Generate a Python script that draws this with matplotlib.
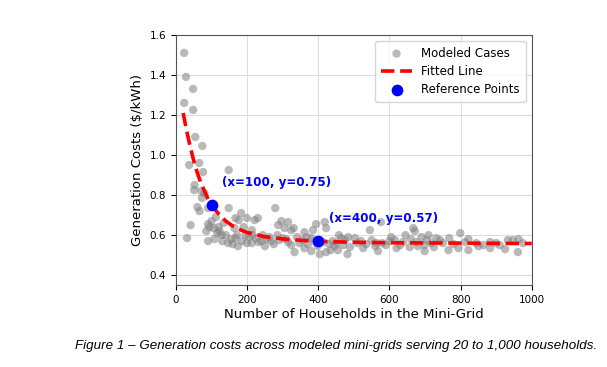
import matplotlib.pyplot as plt
import numpy as np

# modeled cases (households, $/kWh)
households = [23, 28, 48, 23, 48, 54, 74, 37, 65, 76, 148, 52, 51, 71, 80, 73,
              90, 148, 183, 112, 167, 176, 199, 221, 41, 90, 94, 106, 120, 134, 122, 164,
              190, 213, 171, 31, 90, 108, 167, 195, 146, 159, 174, 199, 213, 232,
              279, 296, 287, 315, 305, 324, 331, 361, 385, 394, 418, 422, 230, 244, 268, 300,
              315, 324, 333, 347, 371, 361, 380, 404, 422, 435, 455, 464, 413, 380,
              545, 576, 667, 671, 484, 475, 489, 482, 526, 564, 568, 615, 620, 638, 657, 676,
              690, 699, 699, 718, 732, 503,
              799, 768, 742, 766, 794, 822, 822, 813, 844, 864, 883, 883, 925, 933, 947, 963, 961,
              255, 262, 285, 290, 310, 340, 355, 368, 390, 398, 430, 440, 445, 450, 458, 470,
              510, 520, 535, 550, 560, 580, 590, 600, 605, 630, 645, 660, 680, 705, 710, 725,
              750, 780, 850, 900, 910, 975, 130, 140, 155, 185, 205, 215, 225, 240, 250, 275,
              60, 66, 85, 100, 116, 128]
cost = [1.51, 1.39, 1.33, 1.26, 1.225, 1.09, 1.045, 0.95, 0.96, 0.915, 0.925, 0.85, 0.825, 0.82, 0.81, 0.785,
        0.735, 0.735, 0.71, 0.69, 0.685, 0.675, 0.685, 0.675, 0.65, 0.655, 0.64, 0.635, 0.64, 0.66, 0.62, 0.635,
        0.64, 0.625, 0.60, 0.585, 0.57, 0.58, 0.585, 0.60, 0.56, 0.555, 0.545, 0.56, 0.56, 0.565,
        0.735, 0.67, 0.65, 0.665, 0.635, 0.625, 0.635, 0.615, 0.625, 0.655, 0.665, 0.635, 0.685, 0.60, 0.57, 0.585,
        0.565, 0.55, 0.515, 0.56, 0.555, 0.535, 0.52, 0.505, 0.515, 0.525, 0.525, 0.585, 0.565, 0.585,
        0.625, 0.665, 0.635, 0.62, 0.59, 0.575, 0.54, 0.505, 0.535, 0.56, 0.52, 0.575, 0.535, 0.565, 0.54, 0.565,
        0.59, 0.55, 0.52, 0.56, 0.585, 0.585,
        0.61, 0.585, 0.575, 0.525, 0.535, 0.58, 0.525, 0.565, 0.56, 0.55, 0.565, 0.535, 0.53, 0.575, 0.575, 0.58, 0.515,
        0.58, 0.59, 0.60, 0.575, 0.58, 0.59, 0.575, 0.59, 0.57, 0.545, 0.555, 0.57, 0.545, 0.56, 0.60, 0.55,
        0.56, 0.57, 0.555, 0.575, 0.545, 0.56, 0.55, 0.57, 0.59, 0.55, 0.60, 0.58, 0.545, 0.575, 0.60, 0.54,
        0.56, 0.555, 0.545, 0.56, 0.55, 0.56, 0.57, 0.60, 0.58, 0.57, 0.59, 0.60, 0.585, 0.57, 0.545, 0.555,
        0.74, 0.72, 0.62, 0.67, 0.61, 0.60]

# fitted curve
fit_x = [20, 30, 40, 50, 60, 70, 80, 90, 100, 120, 140, 160, 180, 200, 250, 300,
         350, 400, 500, 600, 700, 800, 900, 1000]
fit_y = [1.21, 1.12, 1.04, 0.97, 0.91, 0.86, 0.82, 0.78, 0.75, 0.705, 0.67, 0.645,
         0.627, 0.613, 0.592, 0.581, 0.574, 0.569, 0.564, 0.562, 0.561, 0.560, 0.559, 0.558]

ref_x = [100, 400]
ref_y = [0.75, 0.57]

fig = plt.figure(figsize=(6.07, 3.67), dpi=100)
ax = fig.add_axes([0.29, 0.223, 0.586, 0.682])

ax.scatter(households, cost, s=36, color='gray', alpha=0.55, edgecolors='none',
           label='Modeled Cases', zorder=2)
ax.plot(fit_x, fit_y, color='red', linestyle='--', linewidth=2.6,
        label='Fitted Line', zorder=3)
ax.scatter(ref_x, ref_y, s=55, color='blue', label='Reference Points', zorder=4)

for x, y in zip(ref_x, ref_y):
    ax.text(x + 30, y + 0.08, f'(x={x}, y={y})', color='blue', fontsize=8.6,
            fontweight='bold', ha='left', va='bottom')

ax.set_xlim(0, 1000)
ax.set_ylim(0.35, 1.6)
ax.set_yticks([0.4, 0.6, 0.8, 1.0, 1.2, 1.4, 1.6])
ax.tick_params(labelsize=7.5)
ax.set_xlabel('Number of Households in the Mini-Grid', fontsize=9.5, labelpad=2)
ax.set_ylabel('Generation Costs ($/kWh)', fontsize=9.5)
ax.grid(True, color='#dddddd', linewidth=0.8)
ax.set_axisbelow(True)
for s in ax.spines.values():
    s.set_color('#555555')

ax.legend(loc='upper right', fontsize=8.5, handlelength=2.6, labelspacing=0.45,
          borderpad=0.5)

fig.text(0.554, 0.057, 'Figure 1 \u2013 Generation costs across modeled mini-grids serving 20 to 1,000 households.',
         fontsize=9.6, style='italic', family='Liberation Sans', ha='center', va='center')

fig.savefig('out.png', dpi=100)
